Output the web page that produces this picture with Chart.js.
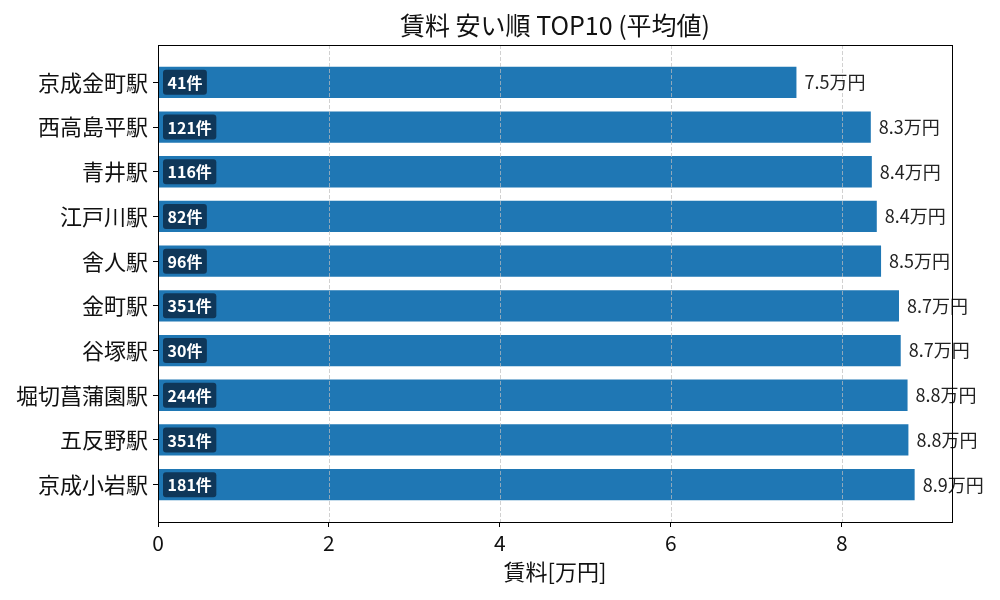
<!DOCTYPE html>
<html><head><meta charset="utf-8">
<script src="https://cdn.jsdelivr.net/npm/chart.js@4.4.0/dist/chart.umd.min.js"></script>
<style>html,body{margin:0;padding:0;background:#fff}#wrap{width:1000px;height:600px}</style>
</head><body><div id="wrap"><canvas id="c" width="1000" height="600"></canvas></div>
<script>
const stations = ['京成金町駅','西高島平駅','青井駅','江戸川駅','舎人駅','金町駅','谷塚駅','堀切菖蒲園駅','五反野駅','京成小岩駅'];
const rents = [7.47, 8.34, 8.352, 8.41, 8.46, 8.67, 8.69, 8.77, 8.78, 8.853];
const counts = [41, 121, 116, 82, 96, 351, 30, 244, 351, 181];
const xTicks = [0, 2, 4, 6, 8];
const FONT = "'Noto Sans CJK JP','Noto Sans',sans-serif";

const titleText = '賃料 安い順 TOP10 (平均値)';

const deco = {
  id: 'deco',
  afterDatasetsDraw(chart) {
    const {ctx, chartArea: a, scales: {x, y}} = chart;
    ctx.save();
    // dashed grid over bars
    ctx.strokeStyle = 'rgba(190,190,190,0.7)';
    ctx.lineWidth = 1;
    ctx.setLineDash([4, 2]);
    xTicks.forEach(v => {
      const px = Math.round(x.getPixelForValue(v)) + 0.5;
      ctx.beginPath();
      ctx.moveTo(px, a.top);
      ctx.lineTo(px, a.bottom);
      ctx.stroke();
    });
    ctx.setLineDash([]);
    // value labels
    ctx.font = '18px ' + FONT;
    ctx.fillStyle = '#222';
    ctx.textBaseline = 'middle';
    ctx.textAlign = 'left';
    rents.forEach((v, i) => {
      ctx.fillText((Math.round(v * 10) / 10).toFixed(1) + '万円', x.getPixelForValue(v) + 8, y.getPixelForValue(i));
    });
    // badges
    ctx.font = 'bold 16px ' + FONT;
    counts.forEach((c, i) => {
      const t = c + '件';
      const w = ctx.measureText(t).width;
      const cy = y.getPixelForValue(i);
      const bx = x.getPixelForValue(0) + 5;
      ctx.fillStyle = 'rgba(15,52,84,0.95)';
      ctx.beginPath();
      ctx.roundRect(bx, cy - 12.5, w + 9, 25, 3);
      ctx.fill();
      ctx.fillStyle = '#fff';
      ctx.fillText(t, bx + 4.5, cy + 0.5);
    });
    // frame
    ctx.strokeStyle = '#000';
    ctx.lineWidth = 1;
    ctx.strokeRect(Math.round(a.left) + 0.5, Math.round(a.top) + 0.5, Math.round(a.right - a.left), Math.round(a.bottom - a.top));
    // title
    ctx.font = '25px ' + FONT;
    ctx.fillStyle = '#111';
    ctx.textAlign = 'center';
    ctx.textBaseline = 'middle';
    ctx.fillText(titleText, (a.left + a.right) / 2, 25);
    ctx.restore();
  }
};

new Chart(document.getElementById('c'), {
  type: 'bar',
  data: {
    datasets: [{
      data: rents.map((v, i) => ({x: v, y: i})),
      backgroundColor: '#1f77b4',
      barPercentage: 0.7,
      categoryPercentage: 1.0
    }]
  },
  options: {
    indexAxis: 'y',
    responsive: false,
    animation: false,
    devicePixelRatio: 1,
    layout: {padding: {top: 45, right: 48, bottom: 0, left: 0}},
    plugins: {legend: {display: false}, tooltip: {enabled: false}, title: {display: false}},
    scales: {
      x: {
        type: 'linear',
        min: 0,
        max: 9.29,
        afterBuildTicks: s => { s.ticks = xTicks.map(v => ({value: v})); },
        afterFit: s => { s.height = 78; },
        ticks: {font: {size: 21, family: FONT}, color: '#111', padding: 3, maxRotation: 0},
        grid: {drawOnChartArea: false, tickColor: '#000', tickLength: 5},
        border: {display: false},
        title: {display: true, text: '賃料[万円]', font: {size: 22, family: FONT}, color: '#111', padding: {top: 0, bottom: 15}}
      },
      y: {
        type: 'linear',
        reverse: true,
        offset: false,
        min: -0.835,
        max: 9.835,
        afterBuildTicks: s => { s.ticks = stations.map((_, i) => ({value: i})); },
        afterFit: s => { s.width = 158; },
        ticks: {font: {size: 22, family: FONT}, color: '#111', padding: 5, callback: (v) => stations[v] ?? ''},
        grid: {drawOnChartArea: false, offset: false, tickColor: '#000', tickLength: 5},
        border: {display: false}
      }
    }
  },
  plugins: [deco]
});
</script></body></html>
